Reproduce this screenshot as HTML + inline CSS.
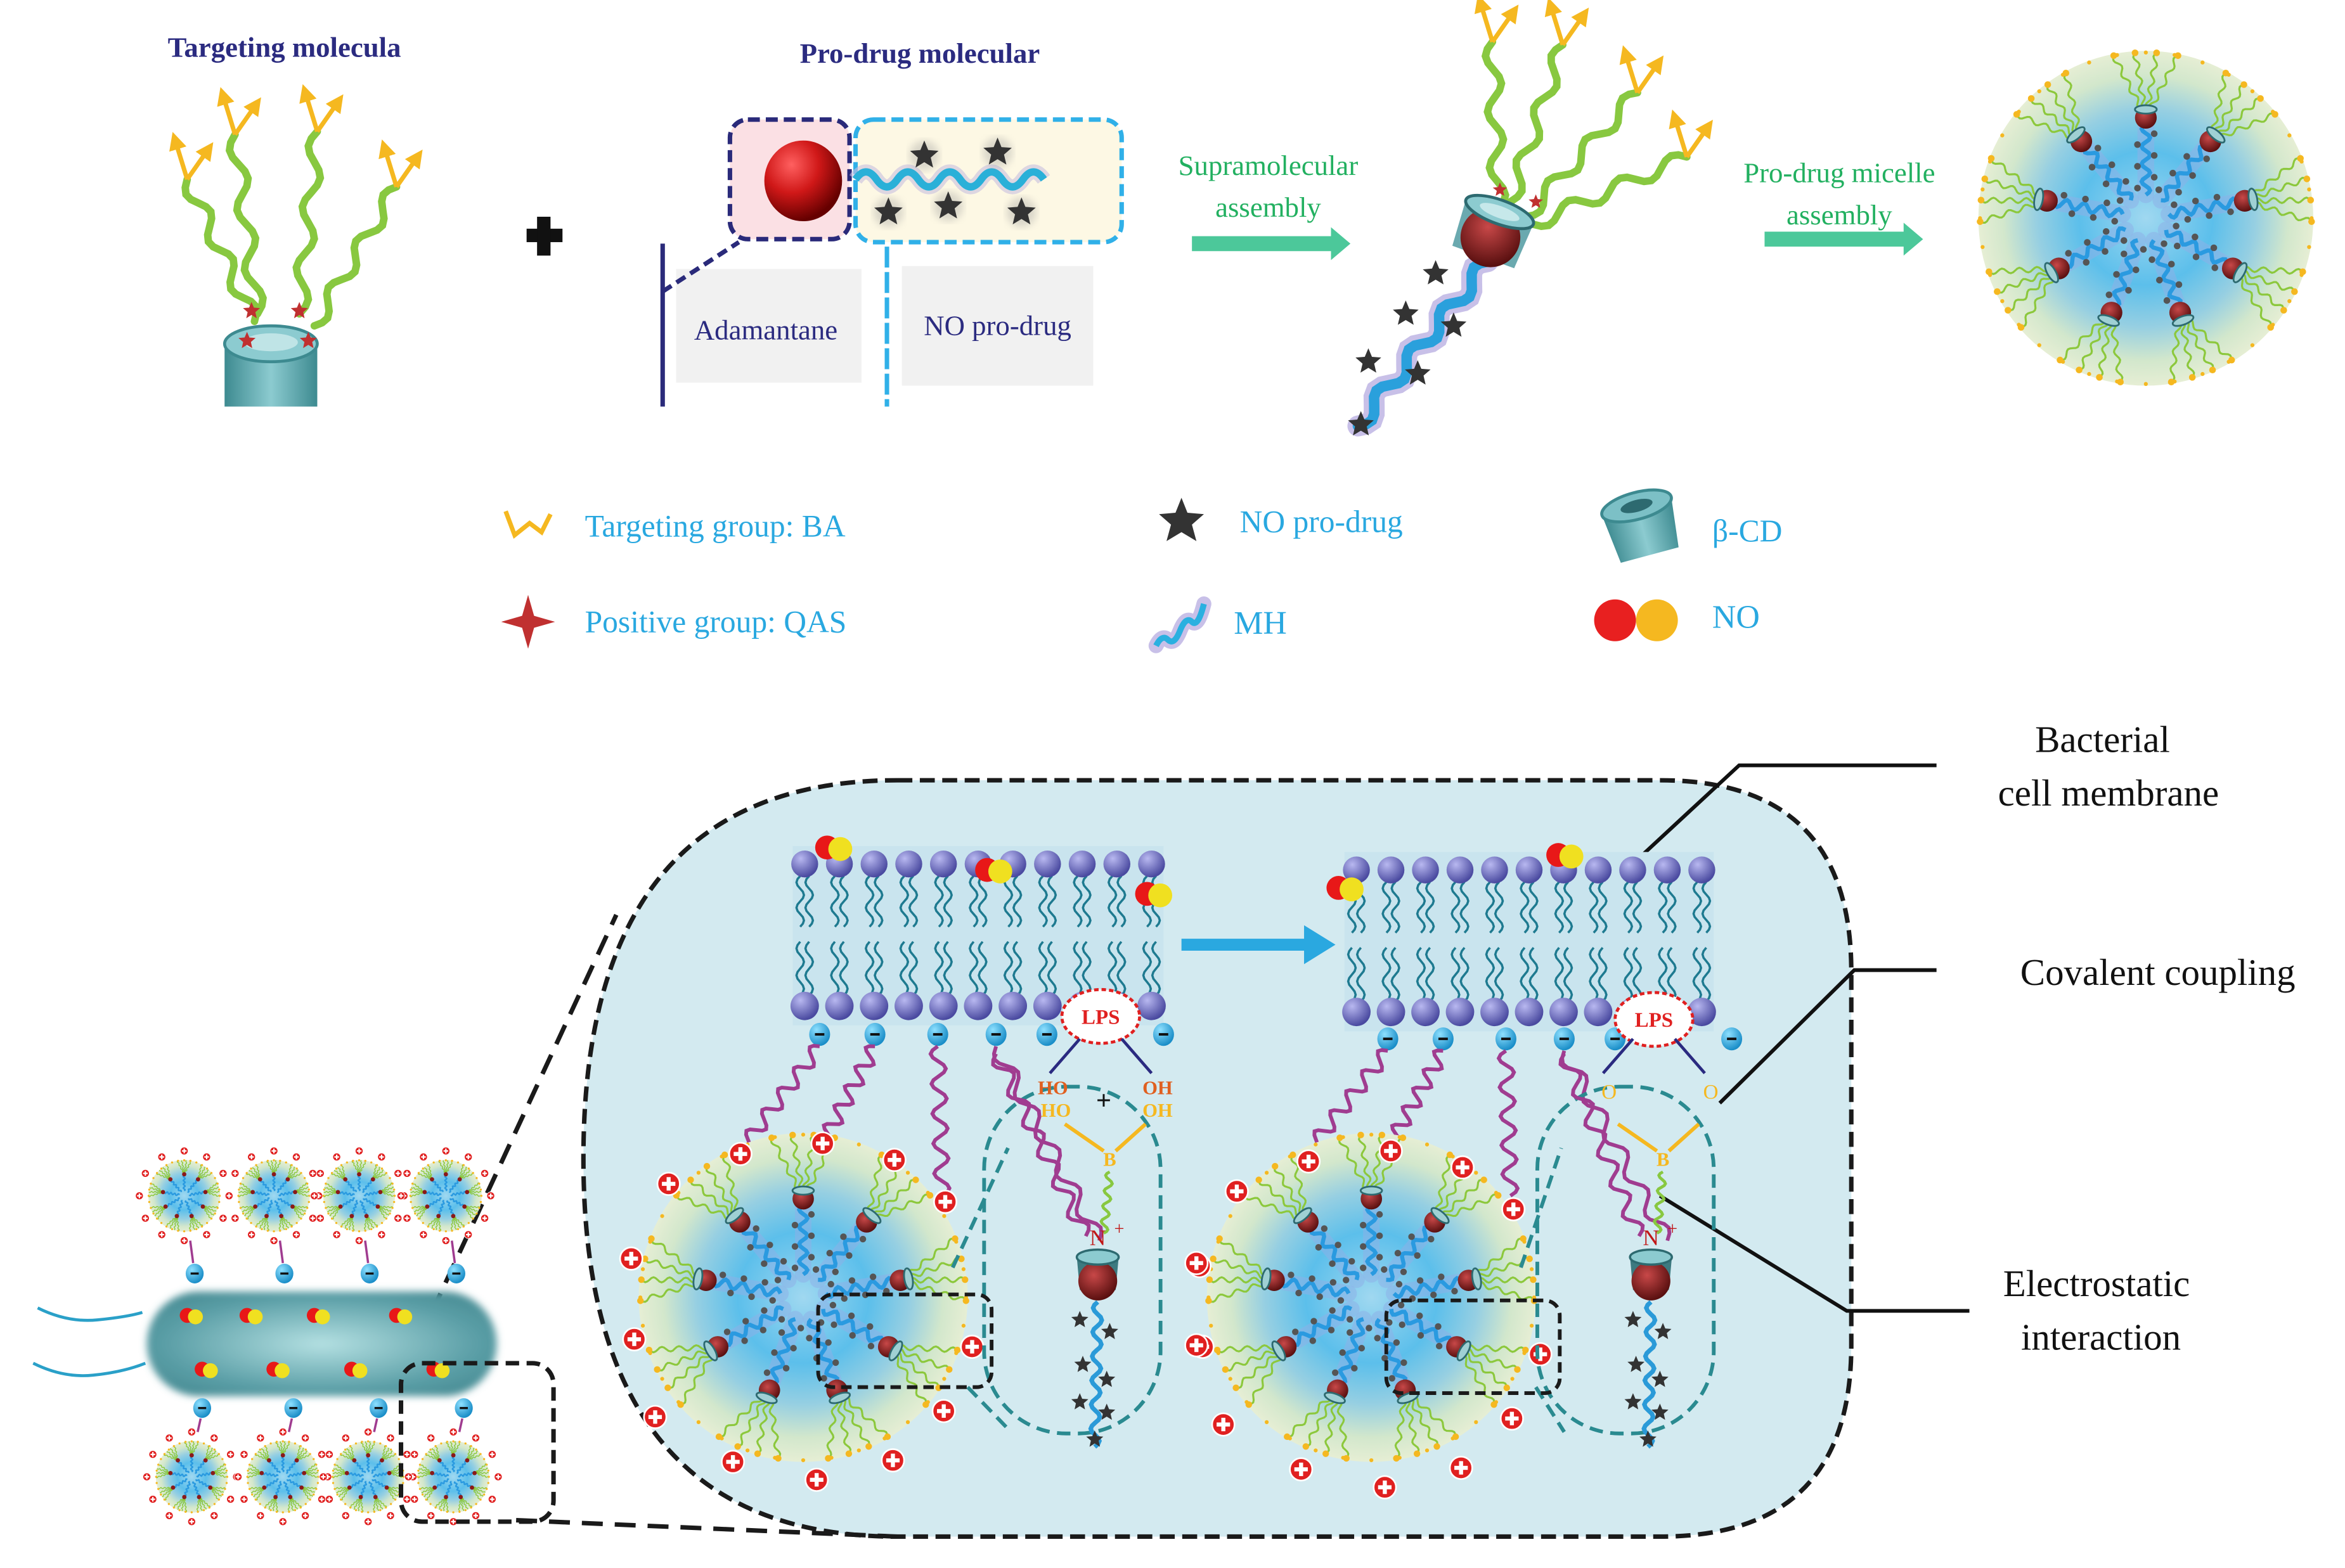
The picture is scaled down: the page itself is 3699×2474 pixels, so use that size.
<!DOCTYPE html>
<html><head><meta charset="utf-8"><style>
html,body{margin:0;padding:0;background:#fff;}
svg{display:block;}
text{font-family:"Liberation Serif",serif;}
</style></head><body>
<svg id="s" width="3699" height="2474" viewBox="0 0 1568 1049" xmlns="http://www.w3.org/2000/svg">
<defs>
<radialGradient id="mic" cx="50%" cy="50%" r="50%">
<stop offset="0" stop-color="#a0d8f0"/><stop offset="0.4" stop-color="#5cbfeb"/><stop offset="0.65" stop-color="#96cfe2"/><stop offset="0.85" stop-color="#d2e7cc"/><stop offset="1" stop-color="#e6eed4"/></radialGradient>
<radialGradient id="rb" cx="35%" cy="30%" r="70%"><stop offset="0" stop-color="#ff6060"/><stop offset="0.5" stop-color="#d01818"/><stop offset="1" stop-color="#600"/></radialGradient>
<radialGradient id="rb2" cx="40%" cy="35%" r="65%"><stop offset="0" stop-color="#c84848"/><stop offset="1" stop-color="#5a1010"/></radialGradient>
<radialGradient id="ph" cx="35%" cy="30%" r="70%"><stop offset="0" stop-color="#b8b8f0"/><stop offset="1" stop-color="#4a4aa0"/></radialGradient>
<radialGradient id="neg" cx="35%" cy="30%" r="70%"><stop offset="0" stop-color="#8ee0ff"/><stop offset="1" stop-color="#1a8ec8"/></radialGradient>
<radialGradient id="rod" cx="50%" cy="50%" r="60%"><stop offset="0" stop-color="#b4e0e2"/><stop offset="0.75" stop-color="#5a9ea6"/><stop offset="1" stop-color="#4a8e96"/></radialGradient>
<filter id="blur1"><feGaussianBlur stdDeviation="2.5"/></filter>
<linearGradient id="cup" x1="0" x2="1"><stop offset="0" stop-color="#3d8a90"/><stop offset="0.5" stop-color="#8ccbd0"/><stop offset="1" stop-color="#3d8a90"/></linearGradient>
<marker id="ah" viewBox="0 0 10 10" refX="5" refY="5" markerWidth="4" markerHeight="4" orient="auto"><path d="M0,0L10,5L0,10z" fill="#f5b820"/></marker>
</defs>
<g id="g"></g>
<text x="190" y="38" font-size="19" font-weight="bold" fill="#2b2b80" text-anchor="middle">Targeting molecula</text>
<text x="615" y="42" font-size="19" font-weight="bold" fill="#2b2b80" text-anchor="middle">Pro-drug molecular</text>
<rect x="352" y="153" width="24" height="9" fill="#111"/><rect x="359" y="145" width="9" height="26" fill="#111"/>
<rect x="488" y="80" width="80" height="80" rx="12" fill="#fbe0e4" stroke="#2a2a7a" stroke-width="3" stroke-dasharray="8,4"/>
<rect x="572" y="80" width="178" height="82" rx="12" fill="#fdf8e4" stroke="#30b0e8" stroke-width="3" stroke-dasharray="8,4"/>
<ellipse cx="537" cy="121" rx="26" ry="27" fill="url(#rb)"/>
<path d="M572,120 q7,-10 14,0 t14,0 t14,0 t14,0 t14,0 t14,0 t14,0 t14,0 t14,0" fill="none" stroke="#c8c0e0" stroke-width="10" opacity="0.6"/>
<path d="M572,120 q7,-10 14,0 t14,0 t14,0 t14,0 t14,0 t14,0 t14,0 t14,0 t14,0" fill="none" stroke="#2ab0d8" stroke-width="5"/>
<g id="pst"></g>
<rect x="452" y="180" width="124" height="76" fill="#f1f1f1"/>
<rect x="603" y="178" width="128" height="80" fill="#f1f1f1"/>
<line x1="443" y1="163" x2="443" y2="272" stroke="#2a2a7a" stroke-width="3"/>
<line x1="443" y1="195" x2="494" y2="162" stroke="#2a2a7a" stroke-width="3" stroke-dasharray="7,4"/>
<line x1="593" y1="165" x2="593" y2="272" stroke="#30b0e8" stroke-width="3" stroke-dasharray="14,3"/>
<text x="512" y="227" font-size="19" fill="#2b2b80" text-anchor="middle">Adamantane</text>
<text x="667" y="224" font-size="19" fill="#2b2b80" text-anchor="middle">NO pro-drug</text>
<text x="848" y="117" font-size="19" fill="#22b060" text-anchor="middle">Supramolecular</text>
<text x="848" y="145" font-size="19" fill="#22b060" text-anchor="middle">assembly</text>
<path d="M797,158 H890 V152 L903,163 L890,174 V168 H797z" fill="#4cc89a"/>
<text x="1230" y="122" font-size="19" fill="#22b060" text-anchor="middle">Pro-drug micelle</text>
<text x="1230" y="150" font-size="19" fill="#22b060" text-anchor="middle">assembly</text>
<path d="M1180,155 H1273 V149 L1286,160 L1273,171 V165 H1180z" fill="#4cc89a"/>
<path d="M338,342 l6,16 l10,-8 l8,6 l6,-12" fill="none" stroke="#f5b820" stroke-width="3"/>
<text x="391" y="359" font-size="21" fill="#29a8e0">Targeting group: BA</text>
<path d="M353,398 l4,14 l14,4 l-14,4 l-4,14 l-4,-14 l-14,-4 l14,-4z" fill="#c03030"/>
<text x="391" y="423" font-size="21" fill="#29a8e0">Positive group: QAS</text>
<path d="M790,333 l4,10 l11,1 l-8,7 l3,11 l-10,-6 l-10,6 l3,-11 l-8,-7 l11,-1z" fill="#333"/>
<text x="829" y="356" font-size="21" fill="#29a8e0">NO pro-drug</text>
<path d="M773,432 q4,-8 8,-4 t8,-6 t8,-6 t8,-12" fill="none" stroke="#c8c0e8" stroke-width="10" stroke-linecap="round"/>
<path d="M773,432 q4,-8 8,-4 t8,-6 t8,-6 t8,-12" fill="none" stroke="#2ab0e0" stroke-width="4"/>
<text x="825" y="424" font-size="22" fill="#29a8e0" font-family="Liberation Sans">MH</text>
<g transform="translate(1098,352) rotate(-15)"><path d="M-24,-14 L24,-14 L20,20 L-20,20z" fill="url(#cup)"/><ellipse cx="0" cy="-14" rx="24" ry="9" fill="#7cc0c6" stroke="#3d8a90" stroke-width="2"/><ellipse cx="0" cy="-14" rx="11" ry="4" fill="#2d6a70"/></g>
<text x="1145" y="362" font-size="21" fill="#29a8e0">β-CD</text>
<circle cx="1080" cy="415" r="14" fill="#e82020"/><circle cx="1108" cy="415" r="14" fill="#f5b820"/>
<text x="1145" y="420" font-size="22" fill="#29a8e0" font-family="Liberation Sans">NO</text>
<path d="M600,522 H1110 Q1238,522 1238,650 V900 Q1238,1028 1110,1028 H600 Q390,1028 390,775 Q390,522 600,522z" fill="#d3eaf0" stroke="#1a1a1a" stroke-width="3" stroke-dasharray="10,5"/>
<text x="1406" y="503" font-size="25" fill="#111" text-anchor="middle">Bacterial</text>
<text x="1410" y="539" font-size="25" fill="#111" text-anchor="middle">cell membrane</text>
<polyline points="1295,512 1163,512 1095,575" fill="none" stroke="#111" stroke-width="2.5"/>
<text x="1443" y="659" font-size="25" fill="#111" text-anchor="middle">Covalent coupling</text>
<polyline points="1295,649 1240,649 1150,738" fill="none" stroke="#111" stroke-width="2.5"/>
<text x="1402" y="867" font-size="25" fill="#111" text-anchor="middle">Electrostatic</text>
<text x="1405" y="903" font-size="25" fill="#111" text-anchor="middle">interaction</text>
<polyline points="1317,877 1235,877 1110,800" fill="none" stroke="#111" stroke-width="2.5"/>
<path d="M790,628 H872 V619 L893,632 L872,645 V636 H790z" fill="#2aa8e0"/>
<line x1="270" y1="918" x2="412" y2="612" stroke="#1a1a1a" stroke-width="3" stroke-dasharray="14,8"/>
<line x1="345" y1="1017" x2="600" y2="1028" stroke="#1a1a1a" stroke-width="3" stroke-dasharray="14,8"/>
<g id="g2"></g>
<rect x="268" y="912" width="102" height="106" rx="14" fill="none" stroke="#1a1a1a" stroke-width="3" stroke-dasharray="9,5"/>
<rect x="547" y="866" width="116" height="62" rx="10" fill="none" stroke="#1a1a1a" stroke-width="2.5" stroke-dasharray="7,4"/>
<rect x="927" y="870" width="116" height="62" rx="10" fill="none" stroke="#1a1a1a" stroke-width="2.5" stroke-dasharray="7,4"/>
</svg>
<script>
var NS="http://www.w3.org/2000/svg";
var g=document.getElementById("g"), g2=document.getElementById("g2"), pst=document.getElementById("pst");
function el(p,t,a){var e=document.createElementNS(NS,t);for(var k in a)e.setAttribute(k,a[k]);p.appendChild(e);return e;}
function wave(x1,y1,x2,y2,amp,n){var dx=x2-x1,dy=y2-y1,L=Math.hypot(dx,dy),ux=dx/L,uy=dy/L,px=-uy,py=ux,d="M"+x1+","+y1;var N=n*8;for(var i=1;i<=N;i++){var t=i/N,s=Math.sin(t*n*2*Math.PI)*amp;d+=" L"+(x1+dx*t+px*s).toFixed(1)+","+(y1+dy*t+py*s).toFixed(1);}return d;}
function star(p,x,y,r,c){var d="";for(var i=0;i<10;i++){var a=-Math.PI/2+i*Math.PI/5,rr=i%2?r*0.45:r;d+=(i?"L":"M")+(x+rr*Math.cos(a)).toFixed(1)+","+(y+rr*Math.sin(a)).toFixed(1);}el(p,"path",{d:d+"z",fill:c||"#333"});}
function plus(p,x,y,r){el(p,"circle",{cx:x,cy:y,r:r,fill:"#e02020",stroke:"#fff","stroke-width":r*0.15});el(p,"rect",{x:x-r*0.6,y:y-r*0.18,width:r*1.2,height:r*0.36,fill:"#fff"});el(p,"rect",{x:x-r*0.18,y:y-r*0.6,width:r*0.36,height:r*1.2,fill:"#fff"});}
function micelle(p,cx,cy,r,detail){el(p,"circle",{cx:cx,cy:cy,r:r,fill:"url(#mic)"});var n=9;
 for(var i=0;i<n;i++){var a=i*2*Math.PI/n-Math.PI/2,c=Math.cos(a),s=Math.sin(a);
 if(detail)el(p,"line",{x1:cx+c*r*0.14,y1:cy+s*r*0.14,x2:cx+c*r*0.55,y2:cy+s*r*0.55,stroke:"#8fb0e8","stroke-width":r*0.1,opacity:0.5,"stroke-linecap":"round"});
 el(p,"path",{d:wave(cx+c*r*0.14,cy+s*r*0.14,cx+c*r*0.56,cy+s*r*0.56,r*0.025,4),stroke:"#2a9ae0","stroke-width":Math.max(1,r*0.025),fill:"none"});
 if(detail){for(var k=0;k<6;k++){var t=0.18+k*0.065,o=(k%2?1:-1)*r*0.05;el(p,"circle",{cx:cx+c*r*t-s*o,cy:cy+s*r*t+c*o,r:r*0.02,fill:"#555"});}}
 var hx=cx+c*r*0.6,hy=cy+s*r*0.6;
 for(var j=0;j<4;j++){var b=a+(j-1.5)*0.13;var ex=cx+Math.cos(b)*r*0.99,ey=cy+Math.sin(b)*r*0.99;el(p,"path",{d:wave(hx,hy,ex,ey,r*0.015,4),stroke:"#8cc83c","stroke-width":Math.max(0.6,r*0.012),fill:"none"});
  if(detail)el(p,"circle",{cx:ex,cy:ey,r:r*0.02,fill:"#f5b820"});}
 if(detail){el(p,"circle",{cx:hx,cy:hy,r:r*0.065,fill:"url(#rb2)"});el(p,"ellipse",{cx:hx+c*r*0.05,cy:hy+s*r*0.05,rx:r*0.025,ry:r*0.065,fill:"#9fd0d4",stroke:"#2d6a70","stroke-width":1.2,transform:"rotate("+(a*180/Math.PI)+" "+(hx+c*r*0.05)+" "+(hy+s*r*0.05)+")"});}
 else el(p,"circle",{cx:hx,cy:hy,r:r*0.06,fill:"#8a1a1a"});}
 for(var i=0;i<36;i++){var a=i*Math.PI/18;el(p,"circle",{cx:cx+Math.cos(a)*r*0.99,cy:cy+Math.sin(a)*r*0.99,r:Math.max(0.7,r*0.012),fill:"#f5b820"});}}
function chain(p,x1,y1,x2,y2){el(p,"path",{d:wave(x1,y1,x2,y2,5,3),stroke:"#88c840","stroke-width":5,fill:"none","stroke-linecap":"round"});
 el(p,"line",{x1:x2,y1:y2,x2:x2-8,y2:y2-26,stroke:"#f5b820","stroke-width":3,"marker-end":"url(#ah)"});el(p,"line",{x1:x2,y1:y2,x2:x2+14,y2:y2-20,stroke:"#f5b820","stroke-width":3,"marker-end":"url(#ah)"});}
chain(g,170,215,125,120);chain(g,172,210,157,90);chain(g,200,210,212,88);chain(g,210,218,265,125);
(function(){var gg=el(g,"g",{});el(gg,"path",{d:"M150,230 L212,230 L212,272 L150,272z",fill:"url(#cup)"});el(gg,"ellipse",{cx:181,cy:230,rx:31,ry:12,fill:"#8ccbd0",stroke:"#3d8a90","stroke-width":2});el(gg,"ellipse",{cx:181,cy:229,rx:18,ry:6,fill:"#bfe4e6"});})();
star(g,168,208,6,"#c03030");star(g,200,208,6,"#c03030");star(g,165,228,6,"#c03030");star(g,206,228,6,"#c03030");
[[618,104],[667,102],[594,142],[634,138],[683,142]].forEach(function(s){el(pst,"circle",{cx:s[0],cy:s[1],r:10,fill:"#999",opacity:0.35,filter:"url(#blur1)"});star(pst,s[0],s[1],10,"#333");});
chain(g,1002,140,998,28);chain(g,1010,135,1045,30);chain(g,1020,145,1095,62);chain(g,1025,150,1128,105);
el(g,"path",{d:wave(995,175,908,285,5,4),stroke:"#c8c0e8","stroke-width":14,fill:"none","stroke-linecap":"round"});
el(g,"path",{d:wave(995,175,908,285,5,4),stroke:"#2aa0dc","stroke-width":7,fill:"none","stroke-linecap":"round"});
[[960,183],[940,210],[972,218],[915,242],[948,250],[910,284]].forEach(function(s){star(g,s[0],s[1],9,"#333");});
(function(){var gg=el(g,"g",{transform:"translate(998,155) rotate(20)"});el(gg,"path",{d:"M-24,-14 L24,-14 L22,18 L-22,18z",fill:"#5aa0a6",opacity:0.9});el(gg,"circle",{cx:0,cy:4,r:20,fill:"url(#rb2)"});el(gg,"ellipse",{cx:0,cy:-14,rx:24,ry:8,fill:"#8ccbd0",stroke:"#2d6a70","stroke-width":2});el(gg,"ellipse",{cx:0,cy:-14,rx:14,ry:4,fill:"#c6e8ea"});})();
star(g,1003,127,5,"#c03030");star(g,1027,135,5,"#c03030");
micelle(g,1435,146,112,true);
function membrane(x0,x1,ytop){var n=11,dx=(x1-x0)/(n-1);el(g2,"rect",{x:x0-8,y:ytop-12,width:x1-x0+16,height:120,fill:"#c9e4ee"});
 for(var i=0;i<n;i++){var x=x0+i*dx;for(var t=-1;t<=1;t+=2){el(g2,"path",{d:wave(x+t*3,ytop+8,x+t*3,ytop+42,2.5,2),stroke:"#1e7a90","stroke-width":1.5,fill:"none"});el(g2,"path",{d:wave(x+t*3,ytop+52,x+t*3,ytop+88,2.5,2),stroke:"#1e7a90","stroke-width":1.5,fill:"none"});}
 el(g2,"circle",{cx:x,cy:ytop,r:9,fill:"url(#ph)"});el(g2,"circle",{cx:x,cy:ytop+95,r:9.5,fill:"url(#ph)"});}}
membrane(538,770,578);membrane(907,1138,582);
function no(x,y,r){el(g2,"circle",{cx:x,cy:y,r:r,fill:"#e81818"});el(g2,"circle",{cx:x+r*1.1,cy:y+1,r:r,fill:"#f0e020"});}
no(553,567,8);no(660,582,8);no(767,598,8);no(895,594,8);no(1042,572,8);
function lps(x,y){el(g2,"ellipse",{cx:x,cy:y,rx:26,ry:18,fill:"#fff",stroke:"#e02020","stroke-width":2,"stroke-dasharray":"3,2"});var t=el(g2,"text",{x:x,y:y+5,"font-size":14,"font-weight":"bold",fill:"#e02020","text-anchor":"middle"});t.textContent="LPS";}
function neg(x,y,r){el(g2,"ellipse",{cx:x,cy:y,rx:r,ry:r*1.1,fill:"url(#neg)"});el(g2,"rect",{x:x-r*0.45,y:y-r*0.12,width:r*0.9,height:r*0.24,fill:"#111"});}
function panel(ox,lpsx,cov){
 [548,585,627,666,700,778].forEach(function(x){neg(x+ox,692+(ox?3:0),7);});
 lps(lpsx,680+(ox?2:0));
 [[548,700,495,770],[585,700,550,765],[627,700,630,800],[666,700,735,830]].forEach(function(w){el(g2,"path",{d:wave(w[0]+ox,w[1]+(ox?3:0),w[2]+ox,w[3],5,5),stroke:"#a03c90","stroke-width":2.5,fill:"none"});});
 var cx=ox+537,cy=868;micelle(g2,cx,cy,110,true);
 [[495,772],[550,765],[598,776],[447,792],[632,804],[422,842],[424,896],[438,948],[490,978],[546,990],[597,977],[631,944],[650,901]].forEach(function(q){plus(g2,q[0]+ox,q[1]+(ox?5:0),7.5);});
 var dx=lpsx-40;
 el(g2,"rect",{x:dx-60+22,y:727,width:118,height:232,rx:55,fill:"none",stroke:"#2a8a90","stroke-width":2.5,"stroke-dasharray":"9,5"});
 el(g2,"line",{x1:cx+100,y1:cy-20,x2:dx-22,y2:cy-100,stroke:"#2a8a90","stroke-width":2.5,"stroke-dasharray":"9,5"});
 el(g2,"line",{x1:cx+110,y1:cy+60,x2:dx-20,y2:cy+90,stroke:"#2a8a90","stroke-width":2.5,"stroke-dasharray":"9,5"});
 el(g2,"line",{x1:lpsx-14,y1:695,x2:lpsx-34,y2:718,stroke:"#2a2a80","stroke-width":2});el(g2,"line",{x1:lpsx+14,y1:695,x2:lpsx+34,y2:718,stroke:"#2a2a80","stroke-width":2});
 var bx=lpsx+4,by=778;
 if(!cov){function tt(x,y,s,c){var t=el(g2,"text",{x:x,y:y,"font-size":13,"font-weight":"bold",fill:c,"text-anchor":"middle"});t.textContent=s;}
  tt(lpsx-32,732,"HO","#e06020");tt(lpsx+38,732,"OH","#e06020");tt(lpsx-30,747,"HO","#f5b820");tt(lpsx+38,747,"OH","#f5b820");
  var p=el(g2,"text",{x:lpsx+2,y:742,"font-size":18,"font-weight":"bold",fill:"#111","text-anchor":"middle"});p.textContent="+";}
 else{var o1=el(g2,"text",{x:lpsx-30,y:735,"font-size":14,fill:"#f5b820","text-anchor":"middle"});o1.textContent="O";var o2=el(g2,"text",{x:lpsx+38,y:735,"font-size":14,fill:"#f5b820","text-anchor":"middle"});o2.textContent="O";}
 el(g2,"line",{x1:lpsx-24,y1:752,x2:bx-2,y2:by-8,stroke:"#f5b820","stroke-width":2.5});el(g2,"line",{x1:lpsx+30,y1:752,x2:bx+6,y2:by-8,stroke:"#f5b820","stroke-width":2.5});
 var b=el(g2,"text",{x:bx+2,y:by+2,"font-size":13,"font-weight":"bold",fill:"#f5b820","text-anchor":"middle"});b.textContent="B";
 var nx=bx-6,ny=833;el(g2,"path",{d:wave(bx+2,by+6,nx+4,ny-8,2.5,4),stroke:"#88c840","stroke-width":2,fill:"none"});
 var N=el(g2,"text",{x:nx,y:ny,"font-size":15,fill:"#c01818","text-anchor":"middle"});N.textContent="N";var pp=el(g2,"text",{x:nx+11,y:ny-7,"font-size":12,fill:"#c01818"});pp.textContent="+";
 el(g2,"path",{d:wave(666+ox,705,nx-8,ny-6,5,6),stroke:"#a03c90","stroke-width":2.5,fill:"none"});
 el(g2,"path",{d:"M"+(nx-14)+","+(ny+8)+" L"+(nx+14)+","+(ny+8)+" L"+(nx+12)+","+(ny+30)+" L"+(nx-12)+","+(ny+30)+"z",fill:"#3d7a80"});
 el(g2,"circle",{cx:nx,cy:ny+24,r:13,fill:"url(#rb2)"});
 el(g2,"ellipse",{cx:nx,cy:ny+8,rx:14,ry:5,fill:"#8ccbd0",stroke:"#2d6a70","stroke-width":1.5});
 el(g2,"path",{d:wave(nx,ny+38,nx-2,ny+135,3,6),stroke:"#2a9ad8","stroke-width":3,fill:"none"});
 [[-12,50],[8,58],[-10,80],[6,90],[-12,105],[6,112],[-2,130]].forEach(function(s){star(g2,nx+s[0],ny+s[1],6,"#333");});
}
panel(0,736,false);
panel(380,1106,true);
plus(g2,800,845,7.5);plus(g2,800,900,7.5);
el(g2,"rect",{x:98,y:864,width:234,height:70,rx:35,fill:"url(#rod)",filter:"url(#blur1)"});
el(g2,"path",{d:"M25,875 q20,10 40,8 t30,-5",stroke:"#2aa0c8","stroke-width":2,fill:"none"});
el(g2,"path",{d:"M22,912 q20,10 40,8 t35,-8",stroke:"#2aa0c8","stroke-width":2,fill:"none"});
[[125,880],[165,880],[210,880],[265,880],[135,916],[183,916],[235,916],[290,916]].forEach(function(q){no(q[0],q[1],5);});
[[123,800],[183,800],[240,800],[298,800],[128,988],[189,988],[246,988],[303,988]].forEach(function(q,i){micelle(g2,q[0],q[1],24,false);for(var k=0;k<12;k++){var a=k*Math.PI/6;plus(g2,q[0]+Math.cos(a)*30,q[1]+Math.sin(a)*30,2.6);}
 var ny=i<4?852:942;neg(q[0]+7,ny,6);el(g2,"line",{x1:q[0]+4,y1:i<4?830:958,x2:q[0]+6,y2:i<4?845:949,stroke:"#a03c90","stroke-width":1.5});});
</script>
</body></html>
